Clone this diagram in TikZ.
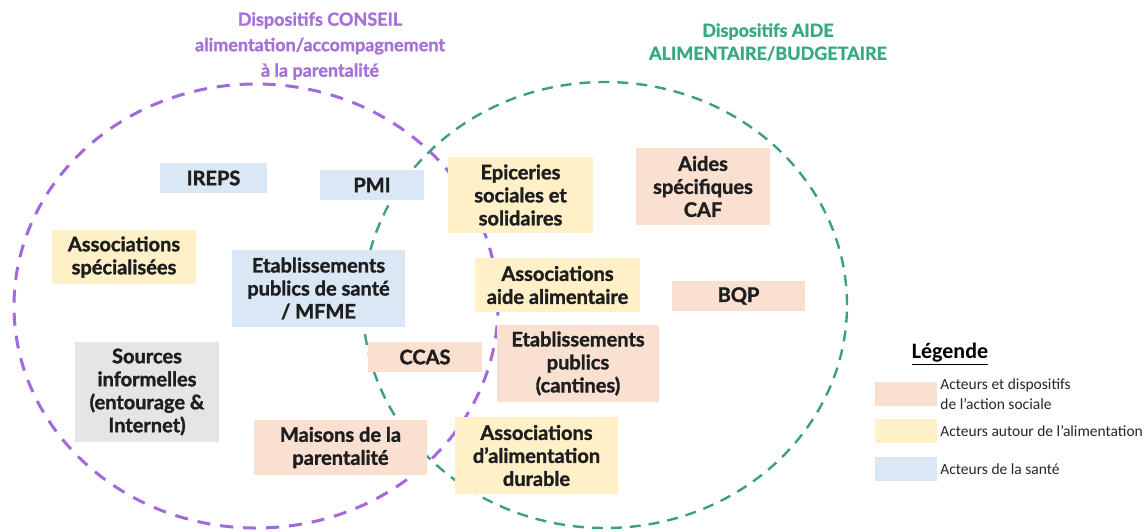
\documentclass[tikz,border=0pt]{standalone}
\usepackage{fontspec}
\setmainfont{Lato}[BoldFeatures={FakeBold=1.5}]
\newfontfamily\legfont{Carlito}
\usetikzlibrary{positioning}
\definecolor{conseilpurple}{RGB}{160,105,220}
\definecolor{conseiltext}{RGB}{165,115,215}
\definecolor{aidegreen}{RGB}{60,160,128}
\definecolor{aidetext}{RGB}{55,170,130}
\definecolor{socialpeach}{RGB}{249,224,209}
\definecolor{foodyellow}{RGB}{255,240,200}
\definecolor{healthblue}{RGB}{218,231,245}
\definecolor{informalgray}{RGB}{229,229,229}
\definecolor{inkblack}{RGB}{30,30,30}

\begin{document}
\begin{tikzpicture}[
        x=1pt, y=-1pt, % one unit = one pixel, y downwards
        every node/.style={inner sep=0pt, align=center, text=inkblack,
          font=\bfseries\fontsize{20}{23}\selectfont},
        social/.style={fill=socialpeach},
        food/.style={fill=foodyellow},
        health/.style={fill=healthblue},
        informal/.style={fill=informalgray},
        swatch/.style={minimum width=62pt, minimum height=24pt},
        legtext/.style={anchor=west, align=left, font=\legfont\fontsize{15.5}{20}\selectfont, text=black!85}
      ]
      \useasboundingbox (0,0) rectangle (1147,531);

      % Circles
      \draw[conseilpurple, line width=3pt, dash pattern=on 13pt off 10pt]
        (256,306) ellipse [x radius=242pt, y radius=222pt];
      \draw[aidegreen, line width=2.4pt, dash pattern=on 11pt off 8pt]
        (605,305) ellipse [x radius=242pt, y radius=223pt];

      % Titles
      \node (TC) [text=conseiltext, font=\bfseries\fontsize{18}{25.5}\selectfont] at (320,46)
        {Dispositifs CONSEIL\\ alimentation/accompagnement\\ à la parentalité};
      \node (TA) [text=aidetext, font=\bfseries\fontsize{18}{23}\selectfont] at (768,42)
        {Dispositifs AIDE\\ ALIMENTAIRE/BUDGETAIRE};

      % Nodes
      \node (IREPS) [health, minimum width=107pt, minimum height=30pt] at (213.5,178) {IREPS};
      \node (PMI) [health, minimum width=104pt, minimum height=30pt] at (372,185) {PMI};
      \node (EPI) [food, minimum width=145pt, minimum height=76pt] at (520.5,195) {Epiceries\\ sociales et\\ solidaires};
      \node (CAF) [social, minimum width=134pt, minimum height=77pt] at (703,186.5) {Aides\\ spécifiques\\ CAF};
      \node (ASP) [food, minimum width=144pt, minimum height=54pt] at (124,257) {Associations\\ spécialisées};
      \node (EPS) [health, minimum width=173pt, minimum height=77pt] at (318.5,288.5) {Etablissements\\ publics de santé\\ / MFME};
      \node (AAA) [food, minimum width=165pt, minimum height=54pt] at (557.5,285) {Associations\\ aide alimentaire};
      \node (BQP) [social, minimum width=133pt, minimum height=30pt] at (738.5,296) {BQP};
      \node (CCAS) [social, minimum width=114pt, minimum height=30pt] at (425,357) {CCAS};
      \node (EPC) [social, minimum width=162pt, minimum height=77pt] at (578,363.5) {Etablissements\\ publics\\ (cantines)};
      \node (SRC) [informal, minimum width=144pt, minimum height=100pt] at (147,392) {Sources\\ informelles\\ (entourage \&\\ Internet)};
      \node (MPA) [social, minimum width=173pt, minimum height=55pt] at (340.5,447.5) {Maisons de la\\ parentalité};
      \node (AAD) [food, minimum width=163pt, minimum height=77pt] at (536.5,455.5) {Associations\\ d’alimentation\\ durable};

      % Legend
      \node (LEG) [font=\legfont\bfseries\fontsize{22}{24}\selectfont, text=black] at (950,354) {\underline{Légende}};
      \node (S1) [social, swatch] at (906,394) {};
      \node (S2) [food, swatch, below=13pt of S1] {};
      \node (S3) [health, swatch, below=13pt of S2] {};
      \node (L1) [legtext, right=3pt of S1] {Acteurs et dispositifs\\ de l’action sociale};
      \node (L2) [legtext, right=3pt of S2] {Acteurs autour de l’alimentation};
      \node (L3) [legtext, right=3pt of S3] {Acteurs de la santé};

    \end{tikzpicture}
\end{document}
